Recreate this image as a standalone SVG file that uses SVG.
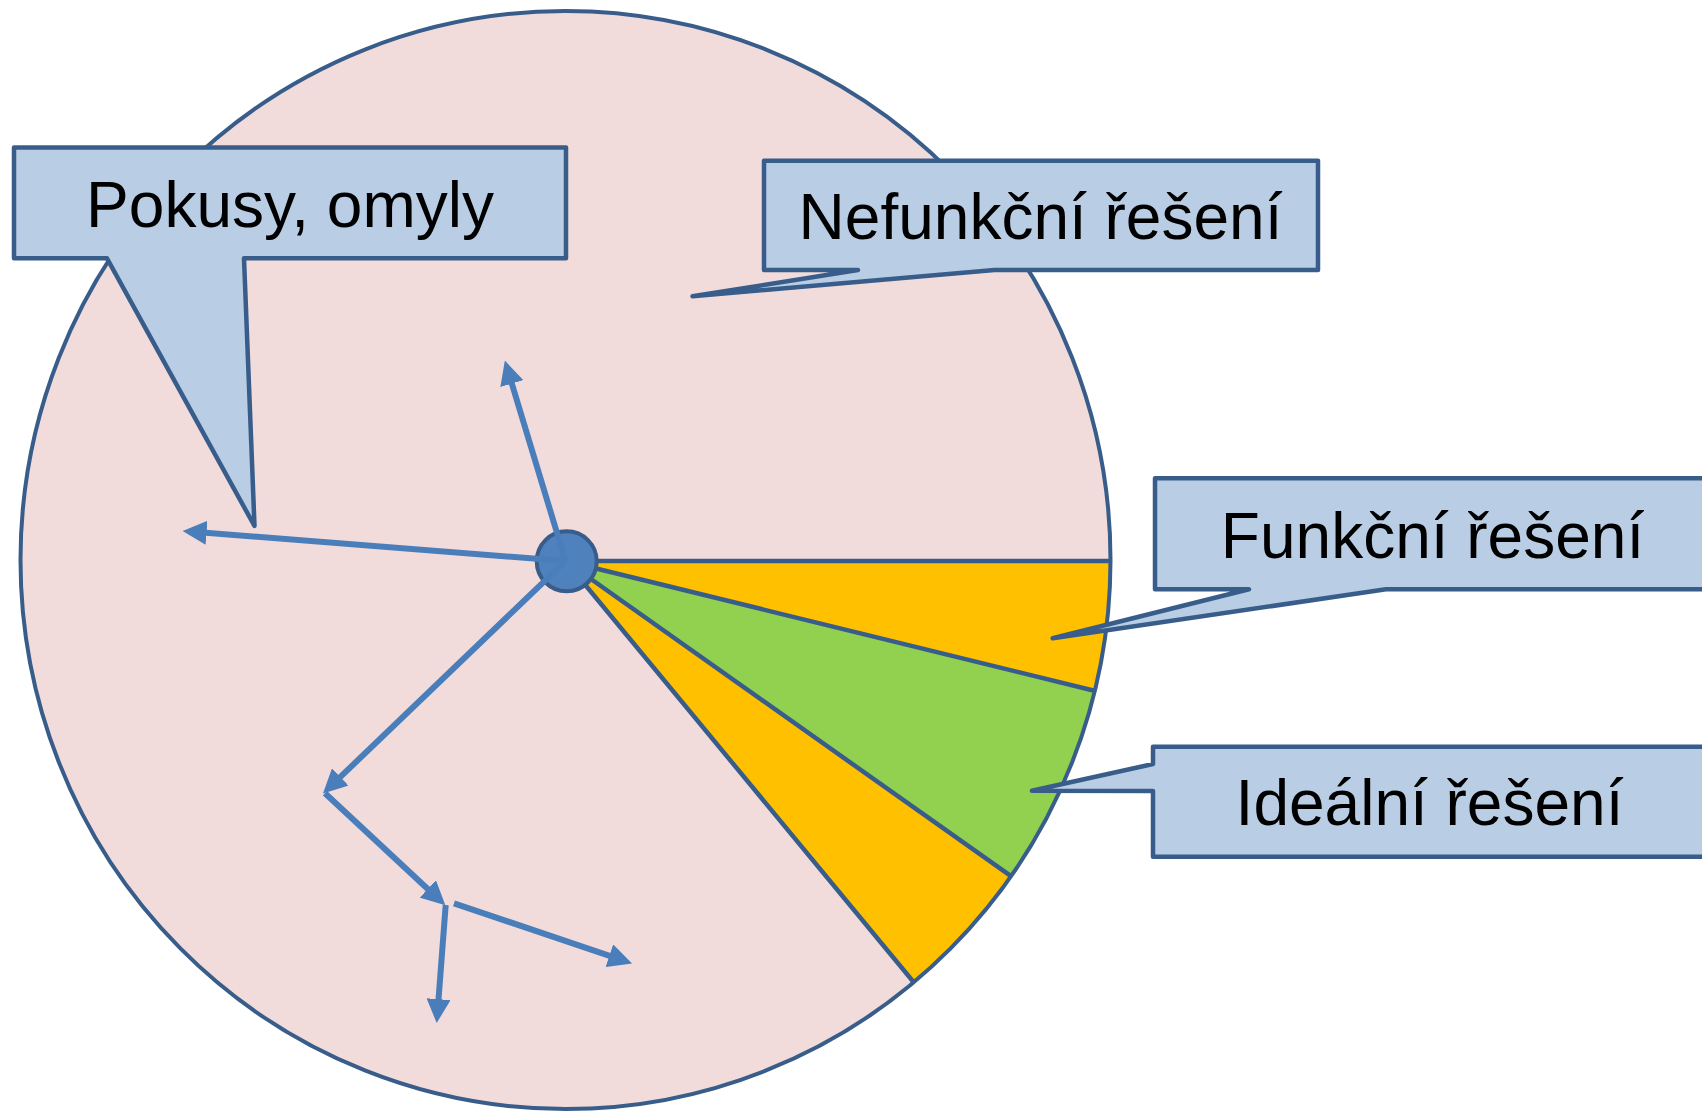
<svg xmlns="http://www.w3.org/2000/svg" width="1702" height="1111" viewBox="0 0 1702 1111">
<defs>
<style>
.sec{stroke:none}
.sline{stroke:#385D8A;stroke-width:4.5;fill:none}
.callout{fill:#B9CDE5;stroke:#385D8A;stroke-width:4.5;stroke-linejoin:round}
.lbl{font-family:"Liberation Sans",Arial,sans-serif;font-size:64px;fill:#000;text-anchor:middle}
.arr{stroke:#4A7EBB;stroke-width:6;fill:none;marker-end:url(#ah)}
</style>
<marker id="ah" markerUnits="userSpaceOnUse" markerWidth="24" markerHeight="24" viewBox="0 0 23 23" refX="13" refY="11.5" orient="auto">
<path d="M0,0 L23,11.5 L0,23 Z" fill="#4A7EBB"/>
</marker>
</defs>
<rect width="1702" height="1111" fill="#FFFFFF"/>
<g id="field">
<ellipse cx="565.5" cy="560" rx="545" ry="549" fill="#F2DCDB"/>
<path class="sec" fill="#FFC000" d="M565.5,561 L1110.5,561 A545,549 0 0 1 1094.3,690.7 Z"/>
<path class="sec" fill="#92D050" d="M565.5,561 L1094.3,690.7 A545,549 0 0 1 1011.7,876.7 Z"/>
<path class="sec" fill="#FFC000" d="M565.5,561 L1011.7,876.7 A545,549 0 0 1 913.3,981.7 Z"/>
<path class="sline" d="M565.5,561 L1110.5,561 M565.5,561 L1094.3,690.7 M565.5,561 L1011.7,876.7 M565.5,561 L913.3,981.7"/>
<ellipse cx="565.5" cy="560" rx="545" ry="549" fill="none" stroke="#385D8A" stroke-width="4"/>
</g>
<g id="pokusy">
<path class="callout" d="M14,147.5 H566 V258.3 H244 L254.5,526 L107,258.3 H14 Z"/>
<text class="lbl" x="290" y="227.3">Pokusy, omyly</text>
</g>
<g id="nefunkcni">
<path class="callout" d="M764,160.7 H1318 V270 H994.5 L692.5,296.3 L858,270 H764 Z"/>
<text class="lbl" x="1040.5" y="239">Nefunkční řešení</text>
</g>
<g id="funkcni">
<path class="callout" d="M1155,478.3 H1714 V589.3 H1386 L1052.7,638.3 L1249,589.3 H1155 Z"/>
<text class="lbl" x="1432.5" y="557.7">Funkční řešení</text>
</g>
<g id="idealni">
<path class="callout" d="M1153,746.7 H1714 V856.7 H1153 V791 L1031.9,790.7 L1153,764 Z"/>
<text class="lbl" x="1429.5" y="825">Ideální řešení</text>
</g>
<g id="start">
<circle cx="566.7" cy="561.3" r="30" fill="#4F81BD" stroke="#385D8A" stroke-width="4"/>
</g>
<g id="connectors">
<line class="arr" x1="565.5" y1="561" x2="507.9" y2="370.6"/>
<line class="arr" x1="565.5" y1="561" x2="193" y2="531.8"/>
<line class="arr" x1="565.5" y1="561" x2="330.5" y2="786.4"/>
<line class="arr" x1="325" y1="793.3" x2="437.7" y2="898.2"/>
<line class="arr" x1="445.7" y1="905" x2="437.5" y2="1012.7"/>
<line class="arr" x1="454" y1="903.3" x2="622.2" y2="960.1"/>
</g>
</svg>
